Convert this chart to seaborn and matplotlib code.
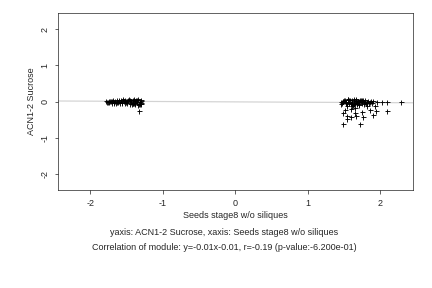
import matplotlib
matplotlib.use("Agg")
import matplotlib.pyplot as plt
import seaborn as sns
import pandas as pd

# left cluster (dense band near y=0)
left_x = [-1.78, -1.76, -1.74, -1.72, -1.70, -1.68, -1.66, -1.64, -1.62, -1.60, -1.58, -1.56, -1.54,
          -1.52, -1.50, -1.48, -1.46, -1.44, -1.42, -1.40, -1.38, -1.36, -1.34, -1.32, -1.30,
          -1.77, -1.73, -1.69, -1.65, -1.61, -1.57, -1.53, -1.49, -1.45, -1.41, -1.37, -1.33, -1.31,
          -1.55, -1.47, -1.43, -1.39, -1.35, -1.31, -1.33,
          -1.75, -1.71, -1.67, -1.63, -1.59, -1.51, -1.44, -1.40, -1.36, -1.32, -1.30, -1.38, -1.42]
left_y = [0.01, 0.0, -0.02, 0.02, 0.01, -0.03, 0.02, 0.03, -0.02, 0.01, 0.04, -0.03, 0.02,
          0.05, -0.04, 0.03, 0.05, -0.02, 0.04, 0.06, -0.05, 0.03, 0.06, -0.07, 0.02,
          -0.02, 0.01, 0.03, -0.04, 0.03, -0.01, -0.05, 0.02, -0.06, -0.03, 0.05, -0.08, 0.04,
          0.06, 0.06, -0.07, -0.06, -0.09, -0.04, -0.25,
          0.02, -0.03, 0.0, -0.01, -0.04, -0.02, 0.02, -0.04, -0.02, 0.0, -0.06, 0.01, -0.05]

# right cluster, dense band
right_x = [1.45, 1.47, 1.49, 1.51, 1.53, 1.55, 1.57, 1.59, 1.61, 1.63, 1.65, 1.67, 1.69, 1.71,
           1.73, 1.75, 1.77, 1.79, 1.81, 1.83, 1.85, 1.87,
           1.46, 1.50, 1.54, 1.58, 1.62, 1.66, 1.70, 1.74, 1.78, 1.82,
           1.52, 1.56, 1.60, 1.64, 1.68, 1.72, 1.76, 1.80, 1.90, 1.95,
           1.48, 1.53, 1.57, 1.61, 1.66, 1.71, 1.75, 1.79, 1.84, 1.88, 1.55, 1.63, 1.69]
right_y = [0.0, -0.03, 0.02, 0.04, -0.05, 0.07, 0.03, -0.06, 0.05, 0.02, -0.04, 0.06, 0.01, -0.07,
           0.04, 0.03, -0.02, 0.05, -0.03, 0.02, -0.01, 0.01,
           -0.06, 0.05, -0.08, 0.03, -0.09, 0.04, -0.10, 0.02, -0.06, 0.0,
           -0.02, 0.08, -0.04, 0.06, -0.05, 0.03, 0.05, -0.04, 0.01, 0.0,
           0.02, -0.01, -0.03, -0.02, 0.01, 0.0, -0.05, -0.01, -0.04, -0.03, 0.03, -0.07, -0.02]

# right cluster, scattered points below the band
tail_x = [1.48, 1.54, 1.59, 1.54, 1.48, 1.51, 1.59, 1.65, 1.67, 1.76, 1.72, 1.65, 1.75,
          1.90, 1.94, 1.86, 1.93, 2.09, 2.09, 2.02, 2.28, 1.61, 1.54, 1.81, 1.68]
tail_y = [-0.63, -0.49, -0.43, -0.41, -0.31, -0.24, -0.22, -0.31, -0.40, -0.43, -0.63, -0.17, -0.29,
          -0.38, -0.26, -0.24, -0.13, -0.26, -0.01, -0.01, -0.01, -0.13, -0.13, -0.13, -0.07]

slope = -0.01
intercept = -0.01

df = pd.DataFrame({"x": left_x + right_x + tail_x, "y": left_y + right_y + tail_y})

sns.set_style("white")
plt.rcParams["font.family"] = ["Liberation Sans", "DejaVu Sans"]
FS = 9

fig = plt.figure(figsize=(6, 4), dpi=72)
ax = fig.add_axes([0.134, 0.340, 0.822, 0.615])

ax.axline((0, intercept), slope=slope, color="#d3d3d3", linewidth=1.2, zorder=1)
sns.scatterplot(data=df, x="x", y="y", marker="+", color="black", s=25, linewidth=0.9,
                ax=ax, zorder=3)

ax.set_xlim(-2.45, 2.45)
ax.set_ylim(-2.45, 2.45)
ax.set_xticks([-2, -1, 0, 1, 2])
ax.set_yticks([-2, -1, 0, 1, 2])
ax.set_xticklabels(["-2", "-1", "0", "1", "2"], fontsize=FS)
ax.set_yticklabels(["-2", "-1", "0", "1", "2"], fontsize=FS, rotation=90, va="center")
ax.tick_params(axis="both", direction="out", length=3.5, width=0.6, color="black", pad=5,
               bottom=True, left=True)
for sp in ax.spines.values():
    sp.set_color("black")
    sp.set_linewidth(0.6)

ax.set_xlabel("")
ax.set_ylabel("ACN1-2 Sucrose", fontsize=FS, labelpad=4)

fig.text(0.545, 0.25, "Seeds stage8 w/o siliques", ha="center", va="center", fontsize=FS)
fig.text(0.519, 0.194, "yaxis: ACN1-2 Sucrose, xaxis: Seeds stage8 w/o siliques",
         ha="center", va="center", fontsize=FS)
fig.text(0.519, 0.139, "Correlation of module: y=-0.01x-0.01, r=-0.19 (p-value:-6.200e-01)",
         ha="center", va="center", fontsize=FS)

fig.savefig("out.png", dpi=72)
